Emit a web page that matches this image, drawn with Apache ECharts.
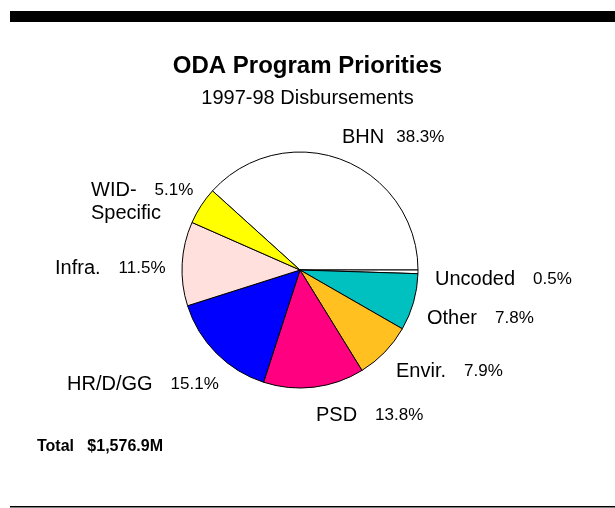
<!DOCTYPE html>
<html>
<head>
<meta charset="utf-8">
<script src="https://cdn.jsdelivr.net/npm/echarts@6/dist/echarts.min.js"></script>
<style>
html,body{margin:0;padding:0;background:#fff;}
#chart{width:615px;height:508px;}
</style>
</head>
<body>
<div id="chart"></div>
<script>
// Data
const categories = ['BHN', 'Uncoded', 'Other', 'Envir.', 'PSD', 'HR/D/GG', 'Infra.', 'WID-\nSpecific'];
const shares = [38.3, 0.5, 7.8, 7.9, 13.8, 15.1, 11.5, 5.1];
const colors = ['#FFFFFF', '#FFFFFF', '#00C0C0', '#FFC020', '#FF0080', '#0000FF', '#FFE0DC', '#FFFF00'];
const titleText = 'ODA Program Priorities';
const subtitleText = '1997-98 Disbursements';
const totalText = 'Total   $1,576.9M';

// Label placement (left x, middle y)
const labelPos = {
  'BHN': [342, 137],
  'Uncoded': [435, 279],
  'Other': [427, 318],
  'Envir.': [396, 371],
  'PSD': [316, 415],
  'HR/D/GG': [67, 384],
  'Infra.': [55, 268],
  'WID-\nSpecific': [91, 202]
};

const font = 'Arial, "Liberation Sans", Helvetica, sans-serif';
const chart = echarts.init(document.getElementById('chart'), null, {renderer: 'canvas'});

// BHN ends at 3 o'clock; start angle = its sweep measured counter-clockwise from 3 o'clock
const total = shares.reduce((a, b) => a + b, 0);
const startAngle = shares[0] / total * 360;

chart.setOption({
  animation: false,
  backgroundColor: '#fff',
  title: [
    {text: titleText, left: 'center', top: 49,
     textStyle: {fontFamily: font, fontSize: 24, fontWeight: 'bold', color: '#000'}},
    {text: subtitleText, left: 'center', top: 83,
     textStyle: {fontFamily: font, fontSize: 20, fontWeight: 'normal', color: '#000'}},
    {text: totalText, left: 32, top: 434,
     textStyle: {fontFamily: font, fontSize: 16, fontWeight: 'bold', color: '#000'}}
  ],
  graphic: [
    {type: 'rect', shape: {x: 10, y: 11, width: 605, height: 11}, style: {fill: '#000'}},
    {type: 'rect', shape: {x: 10, y: 506, width: 605, height: 1.5}, style: {fill: '#000'}}
  ],
  series: [{
    type: 'pie',
    center: [300, 270],
    radius: [0, 118],
    startAngle: startAngle,
    clockwise: true,
    avoidLabelOverlap: false,
    data: categories.map((c, i) => ({
      name: c, value: shares[i],
      itemStyle: {color: colors[i]}
    })),
    itemStyle: {borderColor: '#000', borderWidth: 1},
    emphasis: {disabled: true},
    labelLine: {show: false},
    label: {
      show: true,
      position: 'outside',
      color: '#000',
      fontFamily: font,
      formatter: function (p) {
        const v = p.value.toFixed(1) + '%';
        if (p.name.indexOf('\n') >= 0) {
          const parts = p.name.split('\n');
          return '{n|' + parts[0] + '}{p|' + v + '}\n{n|' + parts[1] + '}';
        }
        return (p.name === 'BHN' ? '{nb|' : '{n|') + p.name + '}{p|' + v + '}';
      },
      rich: {
        n: {fontFamily: font, fontSize: 20, color: '#000', padding: [0, 18, 0, 0], lineHeight: 23},
        nb: {fontFamily: font, fontSize: 20, color: '#000', padding: [0, 12, 0, 0], lineHeight: 23},
        p: {fontFamily: font, fontSize: 17, color: '#000', lineHeight: 23}
      }
    },
    labelLayout: function (params) {
      const name = categories[params.dataIndex];
      const pos = labelPos[name];
      return {x: pos[0], y: pos[1], align: 'left', verticalAlign: 'middle', hideOverlap: false, moveOverlap: null};
    }
  }]
});
</script>
</body>
</html>
